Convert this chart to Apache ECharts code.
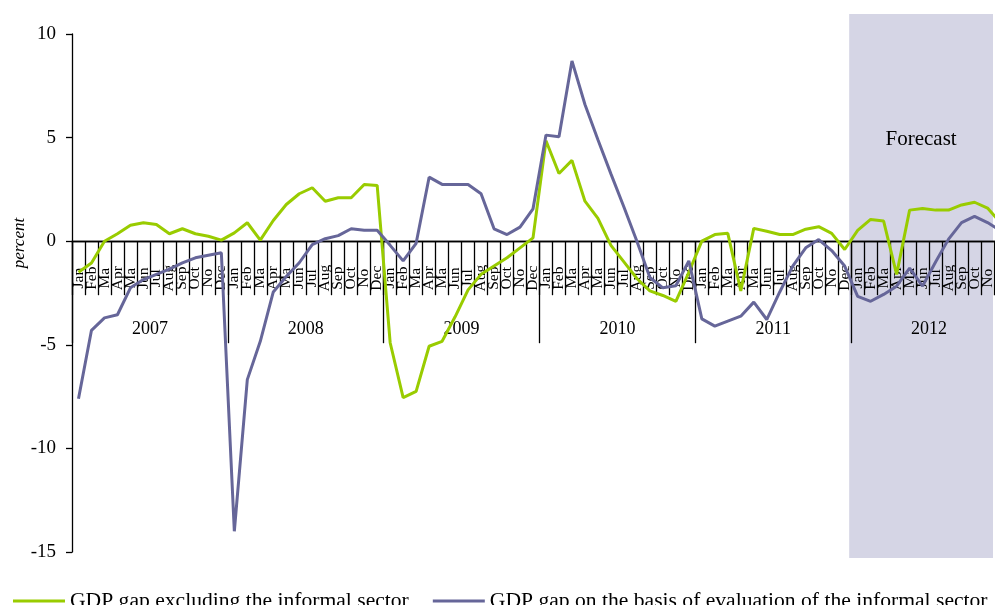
<!DOCTYPE html>
<html>
<head>
<meta charset="utf-8">
<script src="https://cdn.jsdelivr.net/npm/echarts@6/dist/echarts.min.js"></script>
<style>
html,body{margin:0;padding:0;background:#fff;}
#c{width:995px;height:605px;}
</style>
</head>
<body>
<div id="c"></div>
<script>
// ---- data ----
var monthLabels = ['Jan','Feb','Ma','Apr','Ma','Jun','Jul','Aug','Sep','Oct','No','Dec'];
var years = ['2007','2008','2009','2010','2011','2012'];
var yTicks = [-15, -10, -5, 0, 5, 10];
var forecastStartIndex = 60; // Jan 2012
var forecastLabel = 'Forecast';
var seriesNames = ['GDP gap excluding the informal sector', 'GDP gap on the basis of evaluation of the informal sector'];

var gapExclInformal = [
  -1.5, -1.05, 0.0, 0.36, 0.77, 0.89, 0.81, 0.36, 0.6, 0.36, 0.24, 0.05,
  0.4, 0.89, 0.05, 1.0, 1.77, 2.29, 2.58, 1.93, 2.1, 2.1, 2.74, 2.69,
  -4.9, -7.55, -7.25, -5.07, -4.83, -3.65, -2.35, -1.6, -1.2, -0.8, -0.32, 0.16,
  4.85, 3.27, 3.9, 1.93, 1.1, -0.2, -1.0, -1.8, -2.4, -2.62, -2.9, -1.5,
  0.0, 0.32, 0.38, -2.4, 0.62, 0.48, 0.32, 0.32, 0.58, 0.7, 0.38, -0.4,
  0.52, 1.05, 0.97, -1.6, 1.5, 1.58, 1.5, 1.5, 1.75, 1.88, 1.6, 0.9
];
var gapInformal = [
  -7.6, -4.3, -3.7, -3.55, -2.25, -1.85, -1.6, -1.35, -1.05, -0.8, -0.68, -0.56,
  -14.0, -6.68, -4.83, -2.45, -1.7, -1.04, -0.16, 0.12, 0.27, 0.6, 0.53, 0.53,
  -0.2, -0.95, -0.1, 3.09, 2.74, 2.74, 2.74, 2.29, 0.6, 0.32, 0.68, 1.56,
  5.12, 5.04, 8.7, 6.6, 4.9, 3.25, 1.65, 0.0, -1.75, -2.25, -2.15, -0.95,
  -3.75, -4.1, -3.86, -3.62, -2.94, -3.78, -2.45, -1.2, -0.32, 0.08, -0.45, -1.2,
  -2.66, -2.9, -2.57, -2.17, -1.3, -2.17, -1.0, 0.1, 0.9, 1.2, 0.9, 0.5
];

// ---- build ----
var categories = [];
years.forEach(function () { monthLabels.forEach(function (m) { categories.push(m); }); });

var FONT = '"Liberation Serif", "Times New Roman", serif';
var GREEN = '#99cc00';
var BLUE = '#666699';

var chart = echarts.init(document.getElementById('c'), null, {renderer: 'canvas'});
var yMin = yTicks[0], yMax = yTicks[yTicks.length - 1], yStep = yTicks[1] - yTicks[0];

chart.setOption({
  animation: false,
  backgroundColor: '#fff',
  grid: {left: 72, right: -12, top: 34, bottom: 53, containLabel: false, outerBoundsMode: 'none'},
  legend: {
    left: 8, top: 585, width: 1100, icon: 'rect', itemWidth: 52, itemHeight: 3, itemGap: 24,
    textStyle: {fontFamily: FONT, fontSize: 21.6, color: '#000'},
    data: seriesNames
  },
  xAxis: [
    {
      type: 'category', data: categories, boundaryGap: true, position: 'bottom', offset: 0,
      axisLine: {show: true, onZero: false, lineStyle: {color: '#000', width: 1.3}},
      axisTick: {show: true, interval: 0, length: 54, lineStyle: {color: '#000', width: 1.3}},
      axisLabel: {interval: 0, rotate: 90, align: 'center', margin: 37, fontFamily: FONT, fontSize: 15.5, color: '#000'},
      splitLine: {show: false}
    },
    {
      type: 'category', data: years, boundaryGap: true, position: 'bottom', offset: 0,
      axisLine: {show: true, onZero: false, lineStyle: {color: '#000', width: 1.3}},
      axisTick: {show: true, interval: 0, length: 102, lineStyle: {color: '#000', width: 1.3}},
      axisLabel: {interval: 0, margin: 79, fontFamily: FONT, fontSize: 18, color: '#000'},
      splitLine: {show: false}
    }
  ],
  yAxis: [
    {
      type: 'value', min: yMin, max: yMax, interval: yStep,
      name: 'percent', nameLocation: 'middle', nameGap: 44, nameRotate: 90, nameMoveOverlap: false,
      nameTextStyle: {fontFamily: FONT, fontStyle: 'italic', fontSize: 17, color: '#000', padding: [0, 0, 0, 100]},
      axisLine: {show: true, onZero: false, lineStyle: {color: '#000', width: 1.3}},
      axisTick: {show: true, inside: false, length: 6, lineStyle: {color: '#000', width: 1.3}},
      axisLabel: {margin: 16, fontFamily: FONT, fontSize: 19, color: '#000'},
      splitLine: {show: false}
    }
  ],
  series: [
    {
      name: seriesNames[0], type: 'line', data: gapExclInformal, xAxisIndex: 0, yAxisIndex: 0,
      showSymbol: false, symbol: 'none', lineStyle: {color: GREEN, width: 3}, itemStyle: {color: GREEN}, z: 3
    },
    {
      name: seriesNames[1], type: 'line', data: gapInformal, xAxisIndex: 0, yAxisIndex: 0,
      showSymbol: false, symbol: 'none', lineStyle: {color: BLUE, width: 3}, itemStyle: {color: BLUE}, z: 3
    }
  ]
});

// Move both x axes up to the zero line, using the value scale
var zeroPx = chart.convertToPixel({yAxisIndex: 0}, 0);
var botPx = chart.convertToPixel({yAxisIndex: 0}, yMin);
var off = zeroPx - botPx;
chart.setOption({xAxis: [{offset: off}, {offset: off}]});

// Forecast shading positioned through the axis scales
var xa = chart.convertToPixel({xAxisIndex: 0}, forecastStartIndex);
var xb = chart.convertToPixel({xAxisIndex: 0}, forecastStartIndex + 1);
var band = xb - xa;
var left = xa - band / 2 - 2;
var yTop = chart.convertToPixel({yAxisIndex: 0}, yMax) - 20;
var yBot = chart.convertToPixel({yAxisIndex: 0}, yMin) + 6;
var rightEdge = chart.getWidth() - 2;
chart.setOption({
  graphic: [
    {type: 'rect', z: -10, silent: true,
     shape: {x: left, y: yTop, width: rightEdge - left, height: yBot - yTop},
     style: {fill: '#d5d5e5'}},
    {type: 'text', z: 10, silent: true,
     x: left + (rightEdge - left) / 2, y: yTop + 125,
     style: {text: forecastLabel, fontFamily: FONT, fontSize: 21, fill: '#000', align: 'center', verticalAlign: 'middle'}}
  ]
});
</script>
</body>
</html>
